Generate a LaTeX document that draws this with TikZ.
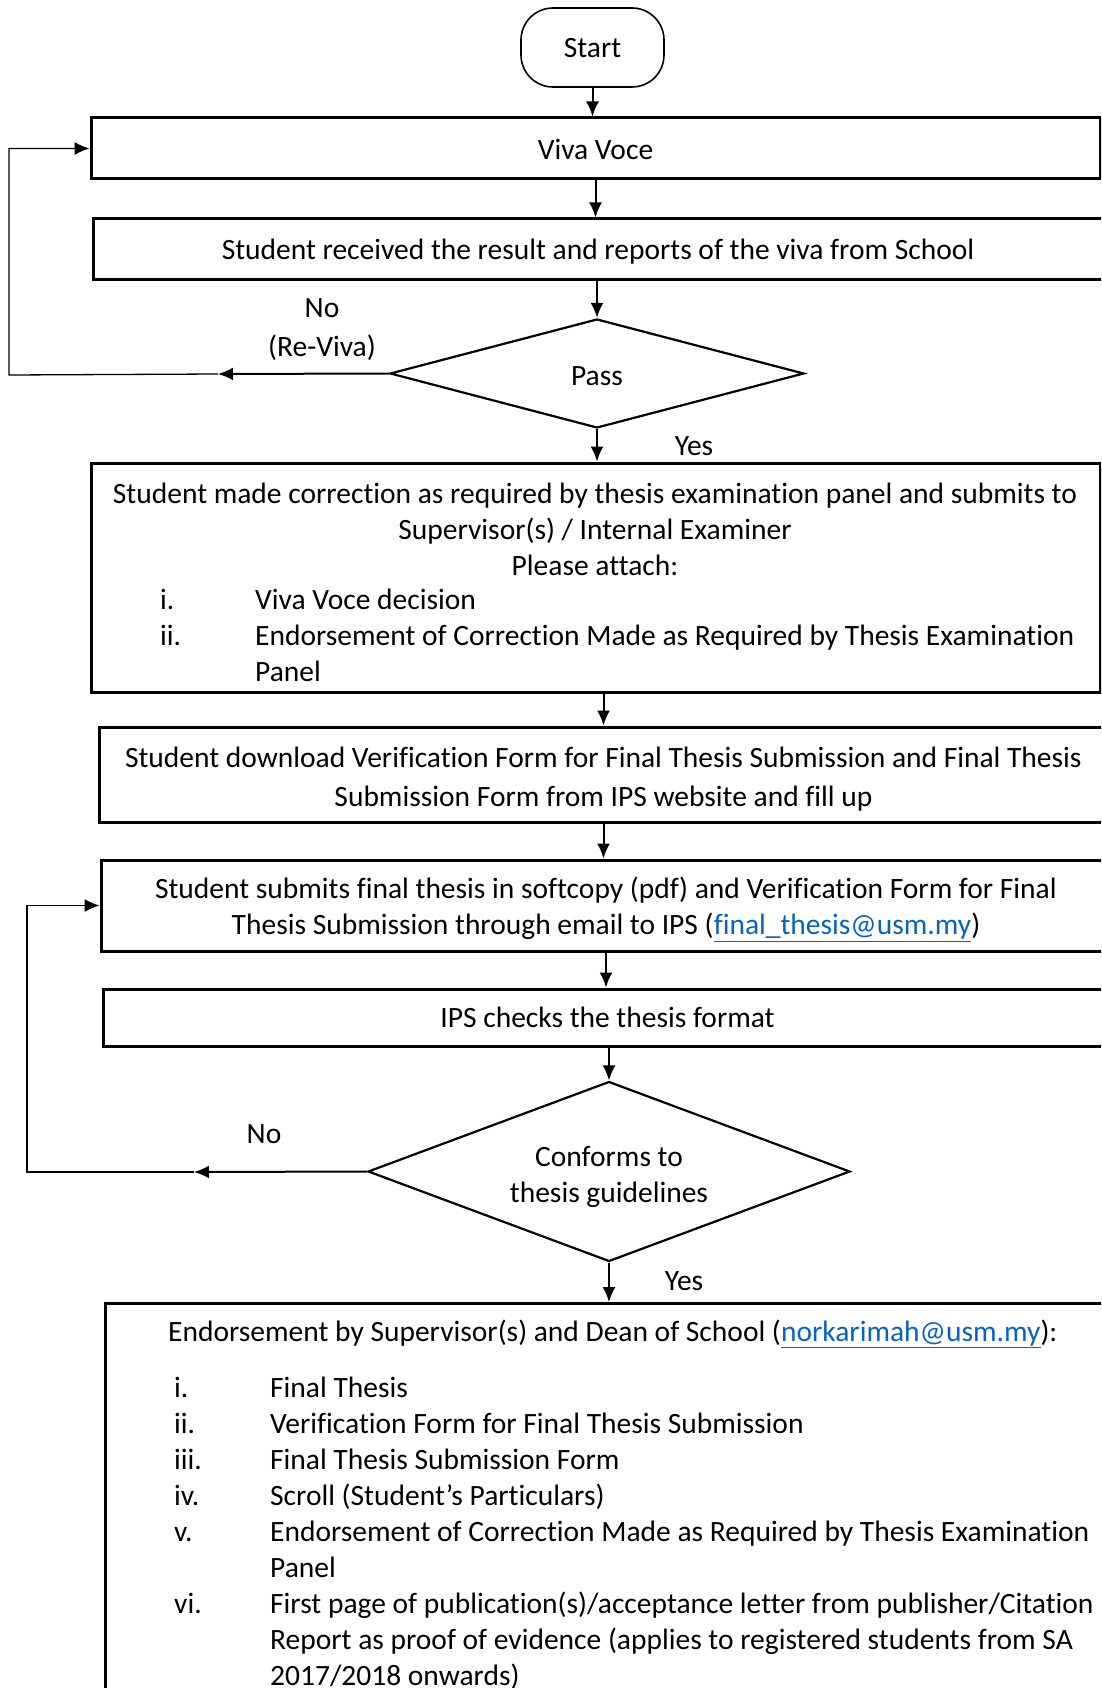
\documentclass[tikz,border=0pt]{standalone}
\usepackage{fontspec}
\setmainfont{Carlito}[Ligatures=CommonOff]
\usetikzlibrary{shapes.geometric,arrows.meta}
\definecolor{linkblue}{HTML}{0563C1}
\newcommand{\maillink}[1]{\smash{\textcolor{linkblue}{\underline{#1}}}}
\newcommand{\dropby}[2]{\raisebox{-#1}[\height][\depth]{#2}}
\newcommand{\lines}[1]{\begin{tabular}{@{}c@{}}#1\end{tabular}}
\tikzset{every node/.style={font=\fontsize{29.5}{36}\selectfont, inner sep=0pt},
  stepbox/.style={draw, line width=3pt},
  startbox/.style={draw, line width=1.6pt, rounded corners=32pt, minimum width=143pt, minimum height=79pt},
  decision/.style={draw, diamond, line width=2.2pt, align=center},
  flow/.style={line width=2pt, -{Latex[length=15pt,width=13pt]}},
  back/.style={line width=1.3pt}}

\begin{document}
\begin{tikzpicture}[x=1pt,y=-1pt]
  \path[use as bounding box, clip] (0,0) rectangle (1101,1688);
  \node[startbox] (start) at (592.5,47.5) {\dropby{1pt}{Start}};
  \node[stepbox, minimum width=1009pt, minimum height=61pt] (viva) at (595.5,148.5) {\dropby{1pt}{Viva Voce}};
  \node[stepbox, minimum width=1010pt, minimum height=60pt] (result) at (598,249)
    {\dropby{3pt}{Student received the result and reports of the viva from School}};
  \node[decision, minimum width=414pt, minimum height=109pt, aspect=3.8] (pass) at (597,373.5)
    {\dropby{3pt}{Pass}};
  \node[stepbox, minimum width=1009pt, minimum height=229pt] (corr) at (595.5,577.5) {};
  \node[align=center] (corrhead) at (595,529.5)
    {Student made correction as required by thesis examination panel and submits to\\
     Supervisor(s) / Internal Examiner\\
     Please attach:};
  \node[anchor=north west] (corrlist) at (160,584)
    {\begin{tabular}{@{}p{95pt}@{}l@{}}
      i.  & Viva Voce decision\\
      ii. & Endorsement of Correction Made as Required by Thesis Examination\\
          & Panel
     \end{tabular}};
  \node[stepbox, minimum width=1009pt, minimum height=95pt,
        font=\fontsize{29.5}{39}\selectfont] (dl) at (603.5,774.5)
    {\dropby{5pt}{\lines{Student download Verification Form for Final Thesis Submission and Final Thesis\\
     Submission Form from IPS website and fill up}}};
  \node[stepbox, minimum width=1010pt, minimum height=91pt] (sub) at (606,905.5)
    {\dropby{4pt}{\lines{Student submits final thesis in softcopy (pdf) and Verification Form for Final\\
     Thesis Submission through email to IPS (\maillink{final\_thesis@usm.my})}}};
  \node[stepbox, minimum width=1009pt, minimum height=57pt] (ips) at (607.5,1017.5) {IPS checks the thesis format};
  \node[decision, minimum width=482pt, minimum height=180pt, aspect=2.7] (conf) at (609,1171.5)
    {\dropby{6pt}{\lines{Conforms to\\thesis guidelines}}};
  \node[stepbox, anchor=north west, minimum width=1011pt, minimum height=420pt] (endo) at (104,1302) {};
  \node[anchor=base west] (endohead) at (168,1341)
    {Endorsement by Supervisor(s) and Dean of School (\maillink{norkarimah@usm.my}):};
  \node[anchor=north west] (endolist) at (174,1372)
    {\begin{tabular}{@{}p{96pt}@{}l@{}}
      i.   & Final Thesis\\
      ii.  & Verification Form for Final Thesis Submission\\
      iii. & Final Thesis Submission Form\\
      iv.  & Scroll (Student’s Particulars)\\
      v.   & Endorsement of Correction Made as Required by Thesis Examination\\
           & Panel\\
      vi.  & First page of publication(s)/acceptance letter from publisher/Citation\\
           & Report as proof of evidence (applies to registered students from SA\\
           & 2017/2018 onwards)
     \end{tabular}};
  \node (nolabel) at (322,308) {No};
  \node (revivalabel) at (322,348) {(Re-Viva)};
  \node (yeslabel) at (694,446) {Yes};
  \node (nolabelb) at (264,1134) {No};
  \node (yeslabelb) at (684,1281) {Yes};
  \coordinate (reviva) at (218,374);
  \coordinate (loopa) at (9,375);
  \coordinate (nob) at (194,1172);
  \coordinate (loopb) at (27,1172);
  \draw[flow] (start.south) -- (start.south |- viva.north);
  \draw[flow] (viva.south) -- (viva.south |- result.north);
  \draw[flow] (pass.north |- result.south) -- (pass.north);
  \draw[flow] (pass.south) -- (pass.south |- corr.north);
  \draw[flow] (dl.north |- corr.south) -- (dl.north);
  \draw[flow] (dl.south) -- (dl.south |- sub.north);
  \draw[flow] (sub.south) -- (sub.south |- ips.north);
  \draw[flow] (conf.north |- ips.south) -- (conf.north);
  \draw[flow] (conf.south) -- (conf.south |- endo.north);
  \draw[flow] (pass.west) -- (reviva);
  \draw[back, -{Latex[length=15pt,width=13pt]}] (reviva) -- (loopa) |- (viva.west);
  \draw[flow] (conf.west) -- (nob);
  \draw[back, -{Latex[length=15pt,width=13pt]}] (nob) -- (loopb) |- (sub.west);
\end{tikzpicture}
\end{document}
